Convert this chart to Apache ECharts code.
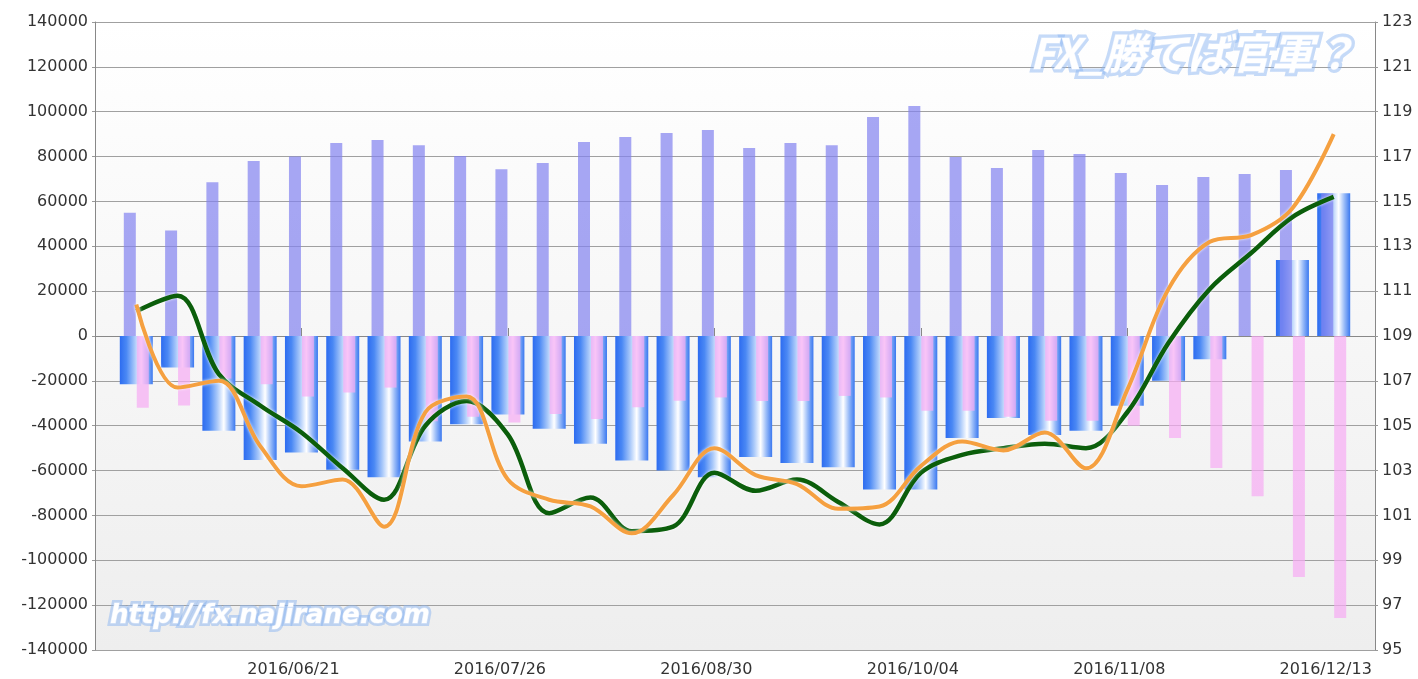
<!DOCTYPE html>
<html>
<head>
<meta charset="utf-8">
<script src="https://cdn.jsdelivr.net/npm/echarts@6/dist/echarts.min.js"></script>
<style>
  html, body { margin: 0; padding: 0; background: #fff; }
  #report { width: 1418px; height: 679px; }
</style>
</head>
<body>
<div id="report"></div>
<script>
// weekly dates, first and last are empty padding weeks
var dates = ['2016/05/17', '2016/05/24', '2016/05/31', '2016/06/07', '2016/06/14', '2016/06/21',
  '2016/06/28', '2016/07/05', '2016/07/12', '2016/07/19', '2016/07/26', '2016/08/02',
  '2016/08/09', '2016/08/16', '2016/08/23', '2016/08/30', '2016/09/06', '2016/09/13',
  '2016/09/20', '2016/09/27', '2016/10/04', '2016/10/11', '2016/10/18', '2016/10/25',
  '2016/11/01', '2016/11/08', '2016/11/15', '2016/11/22', '2016/11/29', '2016/12/06',
  '2016/12/13', '2016/12/20'];

// 05/24 .. 12/13
var longPos = [55000, 47000, 68500, 78000, 80000, 86000, 87400, 85100, 80200, 74400,
  77100, 86500, 88700, 90500, 91800, 83800, 86000, 85100, 97600, 102500,
  79800, 74900, 82900, 81100, 72700, 67300, 70900, 72200, 74000, 63500];
var shortPos = [-32000, -31000, -19000, -21500, -27000, -25200, -23000, -38000, -36000, -38600,
  -34800, -37000, -31800, -28900, -27400, -29000, -29000, -26700, -27400, -33300,
  -33300, -36000, -37800, -37800, -40000, -45500, -58800, -71400, -107400, -125700];
var netPos = [-21500, -14000, -42200, -55300, -51900, -59600, -63000, -47000, -39300, -35000,
  -41300, -48000, -55500, -60000, -63000, -54000, -56600, -58500, -68400, -68400,
  -45500, -36600, -44100, -42200, -31100, -20000, -10400, 0, 33900, 63600];
var greenLine = [110.1, 110.8, 107.3, 105.9, 104.7, 103.1, 101.7, 105.0, 106.1, 104.6,
  101.1, 101.8, 100.3, 100.5, 102.9, 102.1, 102.6, 101.6, 100.6, 102.9,
  103.7, 104.0, 104.2, 104.0, 105.6, 108.7, 111.1, 112.7, 114.3, 115.2];
var orangeLine = [110.4, 106.7, 107.0, 104.1, 102.3, 102.6, 100.5, 105.6, 106.3, 102.6,
  101.7, 101.4, 100.2, 101.9, 104.0, 102.8, 102.4, 101.3, 101.4, 103.2,
  104.3, 103.9, 104.7, 103.1, 106.6, 111.1, 113.2, 113.5, 114.7, 118.0];

function pad(a) {
  return [null].concat(a, [null]);
}
function showTick(idx) {
  return idx > 0 && idx % 5 === 0;
}

var myChart = echarts.init(document.getElementById('report'));
var labelFont = { color: '#333', fontSize: 16, fontFamily: 'DejaVu Sans' };

// glowing watermark: blurred blue layer under a white layer, same anchor
function glowText(text, x, y, font, halo) {
  return [{
    type: 'text', x: x, y: y, z: 100,
    style: {
      text: text, font: font, verticalAlign: 'top',
      fill: 'rgba(140,182,242,0.75)',
      stroke: 'rgba(140,182,242,0.5)', lineWidth: halo,
      shadowColor: 'rgba(100,155,240,0.9)', shadowBlur: 10
    }
  }, {
    type: 'text', x: x, y: y, z: 101,
    style: {
      text: text, font: font, verticalAlign: 'top',
      fill: '#ffffff',
      stroke: 'rgba(225,235,252,0.9)', lineWidth: 1
    }
  }];
}

var option = {
  animation: false,
  grid: {
    left: 95, right: 43, top: 22, bottom: 29,
    show: true, borderWidth: 0,
    backgroundColor: new echarts.graphic.LinearGradient(0, 0, 0, 1, [
      { offset: 0, color: '#ffffff' },
      { offset: 1, color: '#eeeeee' }
    ])
  },
  xAxis: [{
    type: 'category',
    data: dates,
    boundaryGap: false,
    axisLine: { lineStyle: { color: '#888' } },
    axisTick: { inside: true, length: 8, interval: showTick, lineStyle: { color: '#888' } },
    axisLabel: Object.assign({ interval: showTick, margin: 12, padding: [0, 16, 0, 0] }, labelFont),
    splitLine: { show: false }
  }, {
    type: 'category',
    data: dates,
    boundaryGap: false,
    show: false
  }],
  yAxis: [{
    type: 'value',
    min: -140000, max: 140000, interval: 20000,
    axisLine: { show: true, lineStyle: { color: '#888' } },
    axisTick: { show: true, length: 3, lineStyle: { color: '#999' } },
    axisLabel: Object.assign({ margin: 7, formatter: function (v) { return String(v); } }, labelFont),
    splitLine: { lineStyle: { color: '#a0a0a0' } }
  }, {
    type: 'value',
    min: 95, max: 123, interval: 2,
    axisLine: { show: true, lineStyle: { color: '#888' } },
    axisTick: { show: true, length: 3, lineStyle: { color: '#999' } },
    axisLabel: Object.assign({ margin: 7 }, labelFont),
    splitLine: { show: false }
  }],
  series: [{
    name: 'net',
    type: 'bar',
    xAxisIndex: 1,
    yAxisIndex: 0,
    barWidth: 33,
    data: pad(netPos),
    itemStyle: {
      color: new echarts.graphic.LinearGradient(0, 0, 1, 0, [
        { offset: 0, color: '#2d6cf0' },
        { offset: 0.2, color: '#4a88f4' },
        { offset: 0.45, color: '#a8c8fa' },
        { offset: 0.65, color: '#ffffff' },
        { offset: 0.82, color: '#9abcf8' },
        { offset: 1, color: '#3a78f0' }
      ])
    }
  }, {
    name: 'long',
    type: 'bar',
    xAxisIndex: 0,
    yAxisIndex: 0,
    barWidth: 12,
    barGap: '8%',
    data: pad(longPos),
    itemStyle: { color: 'rgba(130,130,240,0.7)' }
  }, {
    name: 'short',
    type: 'bar',
    xAxisIndex: 0,
    yAxisIndex: 0,
    barWidth: 12,
    barGap: '8%',
    data: pad(shortPos),
    itemStyle: { color: 'rgba(246,171,244,0.7)' }
  }, {
    name: 'green',
    type: 'line',
    xAxisIndex: 0,
    yAxisIndex: 1,
    smooth: 0.35,
    symbol: 'none',
    data: pad(greenLine),
    lineStyle: { color: '#0b5e0b', width: 4.5, shadowColor: 'rgba(255,255,255,0.9)', shadowBlur: 3 }
  }, {
    name: 'orange',
    type: 'line',
    xAxisIndex: 0,
    yAxisIndex: 1,
    smooth: 0.35,
    symbol: 'none',
    data: pad(orangeLine),
    lineStyle: { color: '#f5a040', width: 4, shadowColor: 'rgba(255,255,255,0.9)', shadowBlur: 3 }
  }],
  graphic: glowText('FX_勝てば官軍？', 1030, 32, 'italic bold 42px "Noto Sans CJK JP"', 7)
    .concat(glowText('http://fx.najirane.com', 110, 603, 'italic bold 26px "DejaVu Sans"', 6))
};

myChart.setOption(option);
</script>
</body>
</html>
